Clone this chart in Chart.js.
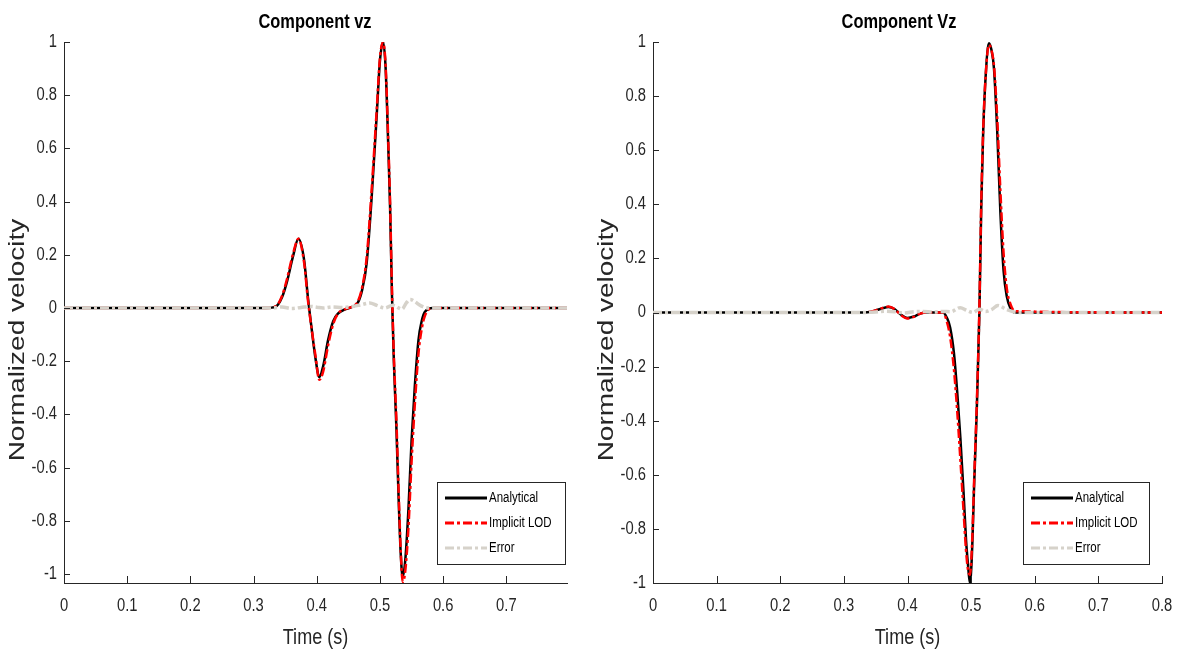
<!DOCTYPE html>
<html>
<head>
<meta charset="utf-8">
<script src="https://cdn.jsdelivr.net/npm/chart.js@4.4.1/dist/chart.umd.min.js"></script>
<style>
  html, body { margin: 0; padding: 0; background: #fff; }
  #wrap { position: relative; width: 1178px; height: 656px; }
  canvas { position: absolute; top: 0; }
  #chartA { left: 0; }
  #chartB { left: 589px; }
</style>
</head>
<body>
<div id="wrap">
  <canvas id="chartA" width="589" height="656"></canvas>
  <canvas id="chartB" width="589" height="656"></canvas>
</div>
<script>
// --- tick labels ---
const xTicks = [0, 0.1, 0.2, 0.3, 0.4, 0.5, 0.6, 0.7, 0.8];
const yTicks = [-1, -0.8, -0.6, -0.4, -0.2, 0, 0.2, 0.4, 0.6, 0.8, 1];

// --- left panel: Component vz ---
const timeA = [0, 0.32, 0.335, 0.345, 0.353, 0.362, 0.371, 0.380, 0.386, 0.392, 0.398, 0.404, 0.410, 0.418, 0.426,
  0.434, 0.445, 0.457, 0.465, 0.472, 0.479, 0.487, 0.495, 0.500, 0.505, 0.509, 0.513, 0.516, 0.519, 0.522,
  0.526, 0.530, 0.533, 0.536, 0.540, 0.545, 0.550, 0.555, 0.561, 0.566, 0.571, 0.584, 0.796];
const analyticalA = [0, 0, 0.005, 0.04, 0.10, 0.19, 0.26, 0.18, 0.04, -0.08, -0.19, -0.26, -0.22, -0.12, -0.05,
  -0.02, -0.005, 0.005, 0.02, 0.07, 0.17, 0.42, 0.73, 0.93, 1.0, 0.90, 0.62, 0.38, 0.05, -0.20,
  -0.45, -0.75, -0.93, -1.01, -0.95, -0.76, -0.50, -0.30, -0.12, -0.05, -0.015, 0, 0];
const implicitA = [0, 0, 0.006, 0.045, 0.11, 0.20, 0.26, 0.17, 0.03, -0.08, -0.18, -0.27, -0.24, -0.14, -0.06,
  -0.02, -0.004, 0.006, 0.025, 0.08, 0.19, 0.45, 0.75, 0.94, 1.0, 0.91, 0.64, 0.40, 0.07, -0.18,
  -0.42, -0.72, -0.92, -1.03, -0.99, -0.83, -0.58, -0.37, -0.17, -0.08, -0.03, 0, 0];
const errTimeA = [0, 0.33, 0.345, 0.36, 0.375, 0.39, 0.40, 0.41, 0.425, 0.44, 0.455, 0.47, 0.484, 0.495,
  0.508, 0.52, 0.535, 0.542, 0.548, 0.555, 0.565, 0.576, 0.796];
const errorA = [0, 0, 0.004, -0.002, 0.002, 0.006, 0.003, 0.0, 0.004, 0.002, 0.005, 0.012, 0.019, 0.01,
  0.0, 0.01, -0.004, 0.02, 0.032, 0.024, 0.008, 0, 0];

// --- right panel: Component Vz ---
const timeB = [0, 0.33, 0.345, 0.36, 0.370, 0.380, 0.390, 0.400, 0.410, 0.420, 0.430, 0.456, 0.462, 0.467, 0.473,
  0.478, 0.483, 0.488, 0.492, 0.495, 0.498, 0.501, 0.505, 0.509, 0.513, 0.516, 0.519, 0.523, 0.528, 0.532,
  0.536, 0.541, 0.546, 0.551, 0.556, 0.562, 0.569, 0.8];
const analyticalB = [0, 0, 0.004, 0.015, 0.02, 0.012, -0.008, -0.02, -0.015, -0.004, 0, 0, -0.02, -0.055, -0.15,
  -0.29, -0.46, -0.66, -0.84, -0.93, -1.0, -0.91, -0.62, -0.35, 0.0, 0.40, 0.67, 0.88, 0.995, 0.97,
  0.90, 0.67, 0.37, 0.155, 0.06, 0.015, 0, 0];
const implicitB = [0, 0, 0.005, 0.016, 0.022, 0.012, -0.01, -0.022, -0.016, -0.004, 0, 0, -0.035, -0.09, -0.21,
  -0.36, -0.54, -0.73, -0.88, -0.95, -0.97, -0.88, -0.60, -0.33, 0.02, 0.42, 0.68, 0.88, 0.99, 0.97,
  0.91, 0.72, 0.45, 0.22, 0.09, 0.03, 0.005, 0];
const errTimeB = [0, 0.33, 0.35, 0.365, 0.38, 0.395, 0.41, 0.425, 0.44, 0.455, 0.468, 0.483, 0.493, 0.503,
  0.513, 0.523, 0.533, 0.542, 0.555, 0.572, 0.8];
const errorB = [0, 0, 0.002, 0.005, 0.003, -0.002, 0.003, 0.004, 0.002, 0.004, 0.003, 0.018, 0.008, 0.0,
  0.012, 0.004, 0.012, 0.026, 0.012, 0, 0];

const FONT = "'Liberation Sans', Arial, Helvetica, sans-serif";
const SQUEEZE = 0.82;   // the original figure is squashed horizontally
const AXIS = '#262626';

const pts = (xs, ys) => xs.map((x, i) => ({ x, y: ys[i] }));
const fmt = v => String(Number(v.toFixed(2)));

// text drawn narrower like the source image
function squeezedText(ctx, text, x, y, font, align, color, rotate) {
  ctx.save();
  ctx.translate(x, y);
  ctx.scale(SQUEEZE, 1);
  if (rotate) ctx.rotate(-Math.PI / 2);
  ctx.font = font;
  ctx.fillStyle = color;
  ctx.textAlign = align;
  ctx.textBaseline = 'middle';
  ctx.fillText(text, 0, 0);
  ctx.restore();
}

// matlab-ish decorations: inward ticks, labels, titles, boxed legend
const matlabAxes = {
  id: 'matlabAxes',
  afterDraw(chart, args, opts) {
    const { ctx, chartArea: a, scales: { x, y } } = chart;
    ctx.save();
    ctx.strokeStyle = AXIS;
    ctx.lineWidth = 1;
    ctx.beginPath();
    x.ticks.forEach(t => {
      const px = Math.round(x.getPixelForValue(t.value)) + 0.5;
      ctx.moveTo(px, a.bottom); ctx.lineTo(px, a.bottom - 7);
    });
    y.ticks.forEach(t => {
      const py = Math.round(y.getPixelForValue(t.value)) + 0.5;
      ctx.moveTo(a.left, py); ctx.lineTo(a.left + 6, py);
    });
    ctx.stroke();

    x.ticks.forEach(t => squeezedText(ctx, fmt(t.value), x.getPixelForValue(t.value), a.bottom + 23, '18px ' + FONT, 'center', AXIS));
    y.ticks.forEach(t => squeezedText(ctx, fmt(t.value), a.left - 7, y.getPixelForValue(t.value), '18px ' + FONT, 'right', AXIS));

    squeezedText(ctx, 'Time (s)', (a.left + a.right) / 2, 638, '22px ' + FONT, 'center', AXIS);
    squeezedText(ctx, 'Normalized velocity', 18, 340, '28px ' + FONT, 'center', AXIS, true);
    squeezedText(ctx, opts.title, opts.titleX, 22, 'bold 20px ' + FONT, 'center', '#000');

    const L = opts.legend;
    ctx.fillStyle = '#fff';
    ctx.fillRect(L.x, L.y, L.w, L.h);
    ctx.strokeStyle = AXIS;
    ctx.strokeRect(L.x + 0.5, L.y + 0.5, L.w, L.h);
    chart.data.datasets.forEach((ds, i) => {
      const cy = L.y + 16 + i * 25;
      ctx.beginPath();
      ctx.setLineDash(ds.borderDash || []);
      ctx.strokeStyle = ds.borderColor;
      ctx.lineWidth = 3;
      ctx.moveTo(L.x + 8, cy); ctx.lineTo(L.x + 50, cy);
      ctx.stroke();
      ctx.setLineDash([]);
      squeezedText(ctx, ds.label, L.x + 52, cy, '14px ' + FONT, 'left', '#000');
    });
    ctx.restore();
  }
};

function buildChart(id, cfg) {
  return new Chart(document.getElementById(id), {
    type: 'line',
    data: {
      datasets: [
        { label: 'Analytical', data: pts(cfg.time, cfg.analytical), borderColor: '#000000', borderWidth: 2.5, order: 2 },
        { label: 'Implicit LOD', data: pts(cfg.time, cfg.implicit), borderColor: '#ff0000', borderWidth: 2.5, borderDash: [9, 3, 3, 3], order: 1 },
        { label: 'Error', data: pts(cfg.errTime, cfg.error), borderColor: '#d6d2ca', borderWidth: 3.5, borderDash: [9, 3, 3, 3], order: 0 }
      ]
    },
    options: {
      responsive: false,
      animation: false,
      elements: { point: { radius: 0 }, line: { cubicInterpolationMode: 'monotone', fill: false } },
      layout: { padding: { top: 42, right: cfg.padRight, left: 0, bottom: 0 } },
      plugins: {
        legend: { display: false },
        tooltip: { enabled: false },
        matlabAxes: { title: cfg.title, titleX: cfg.titleX, legend: cfg.legend }
      },
      scales: {
        x: {
          type: 'linear', min: 0, max: cfg.xMax,
          afterBuildTicks: s => { s.ticks = xTicks.filter(v => v <= cfg.xMax + 1e-9).map(v => ({ value: v })); },
          afterFit: s => { s.height = 73; },
          ticks: { display: false },
          grid: { display: false, drawTicks: false },
          border: { color: AXIS, width: 1 }
        },
        y: {
          type: 'linear', min: cfg.yMin, max: 1,
          afterBuildTicks: s => { s.ticks = yTicks.map(v => ({ value: v })); },
          afterFit: s => { s.width = 64; },
          ticks: { display: false },
          grid: { display: false, drawTicks: false },
          border: { color: AXIS, width: 1 }
        }
      }
    },
    plugins: [matlabAxes]
  });
}

buildChart('chartA', {
  time: timeA, analytical: analyticalA, implicit: implicitA, errTime: errTimeA, error: errorA,
  xMax: 0.796, yMin: -1.034, padRight: 22,
  title: 'Component vz', titleX: 315,
  legend: { x: 437, y: 482, w: 128, h: 82 }
});

buildChart('chartB', {
  time: timeB, analytical: analyticalB, implicit: implicitB, errTime: errTimeB, error: errorB,
  xMax: 0.8, yMin: -1, padRight: 16,
  title: 'Component Vz', titleX: 310,
  legend: { x: 434, y: 482, w: 126, h: 82 }
});
</script>
</body>
</html>
